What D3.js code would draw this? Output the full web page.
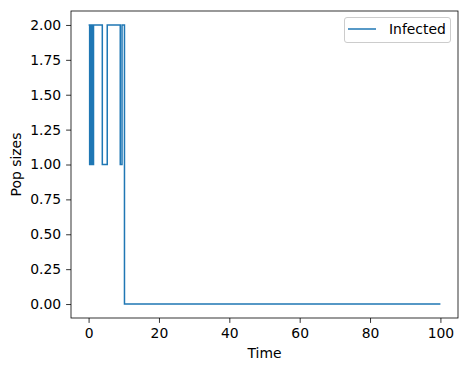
<!DOCTYPE html>
<html>
<head>
<meta charset="utf-8">
<script src="https://cdn.jsdelivr.net/npm/d3@7"></script>
<style>
  body { margin: 0; background: #fff; }
  svg { font-family: "DejaVu Sans", sans-serif; }
</style>
</head>
<body>
<svg id="chart" width="467" height="371"></svg>
<script>
// step data (steps-post): time of change, and value after it
var times  = [0, 0.3, 0.5, 0.8, 1.0, 1.2, 1.4, 3.9, 5.3, 9.0, 9.5, 10.2, 100];
var values = [2, 1,   2,   1,   2,   1,   2,   1,   2,   1,   2,   0,    0];
var seriesName = "Infected";
var xTicks = [0, 20, 40, 60, 80, 100];
var yTicks = [0, 0.25, 0.5, 0.75, 1.0, 1.25, 1.5, 1.75, 2.0];

var svg = d3.select("#chart");
var mLeft = 71, mTop = 11, mRight = 458, mBottom = 318;

var x = d3.scaleLinear().domain([-5, 105]).range([mLeft, mRight]);
var y = d3.scaleLinear().domain([-0.1, 2.1]).range([mBottom, mTop]);

var data = times.map(function(t, i) { return {t: t, v: values[i]}; });

var line = d3.line()
    .x(function(d) { return x(d.t); })
    .y(function(d) { return y(d.v); })
    .curve(d3.curveStepAfter);

svg.append("path")
    .datum(data)
    .attr("fill", "none")
    .attr("stroke", "#1f77b4")
    .attr("stroke-width", 1.5)
    .attr("d", line);

// axes
var xAxis = svg.append("g")
    .attr("transform", "translate(0," + mBottom + ")")
    .call(d3.axisBottom(x).tickValues(xTicks).tickSize(4.9).tickPadding(4.9).tickFormat(d3.format("d")));
var yAxis = svg.append("g")
    .attr("transform", "translate(" + mLeft + ",0)")
    .call(d3.axisLeft(y).tickValues(yTicks).tickSize(4.9).tickPadding(4.9).tickFormat(d3.format(".2f")));

[xAxis, yAxis].forEach(function(g) {
  g.select(".domain").remove();
  g.selectAll("line").attr("stroke", "#000").attr("stroke-width", 0.8);
  g.selectAll("text").attr("fill", "#000").style("font-size", "13.9px")
    .style("font-family", "DejaVu Sans, sans-serif");
});

// frame
svg.append("rect")
    .attr("x", mLeft).attr("y", mTop)
    .attr("width", mRight - mLeft).attr("height", mBottom - mTop)
    .attr("fill", "none").attr("stroke", "#000").attr("stroke-width", 0.8);

// labels
svg.append("text")
    .attr("x", (mLeft + mRight) / 2).attr("y", 358)
    .attr("text-anchor", "middle")
    .style("font-size", "13.9px")
    .text("Time");
svg.append("text")
    .attr("transform", "translate(21," + ((mTop + mBottom) / 2) + ") rotate(-90)")
    .attr("text-anchor", "middle")
    .style("font-size", "13.9px")
    .text("Pop sizes");

// legend
var lg = svg.append("g");
lg.append("rect")
    .attr("x", 344.5).attr("y", 17.5).attr("width", 106).attr("height", 25)
    .attr("rx", 2.5)
    .attr("fill", "#fff").attr("fill-opacity", 0.8)
    .attr("stroke", "#ccc").attr("stroke-width", 1);
lg.append("line")
    .attr("x1", 348).attr("x2", 376).attr("y1", 29).attr("y2", 29)
    .attr("stroke", "#1f77b4").attr("stroke-width", 1.5);
lg.append("text")
    .attr("x", 389).attr("y", 34)
    .style("font-size", "13.9px")
    .text(seriesName);
</script>
</body>
</html>
